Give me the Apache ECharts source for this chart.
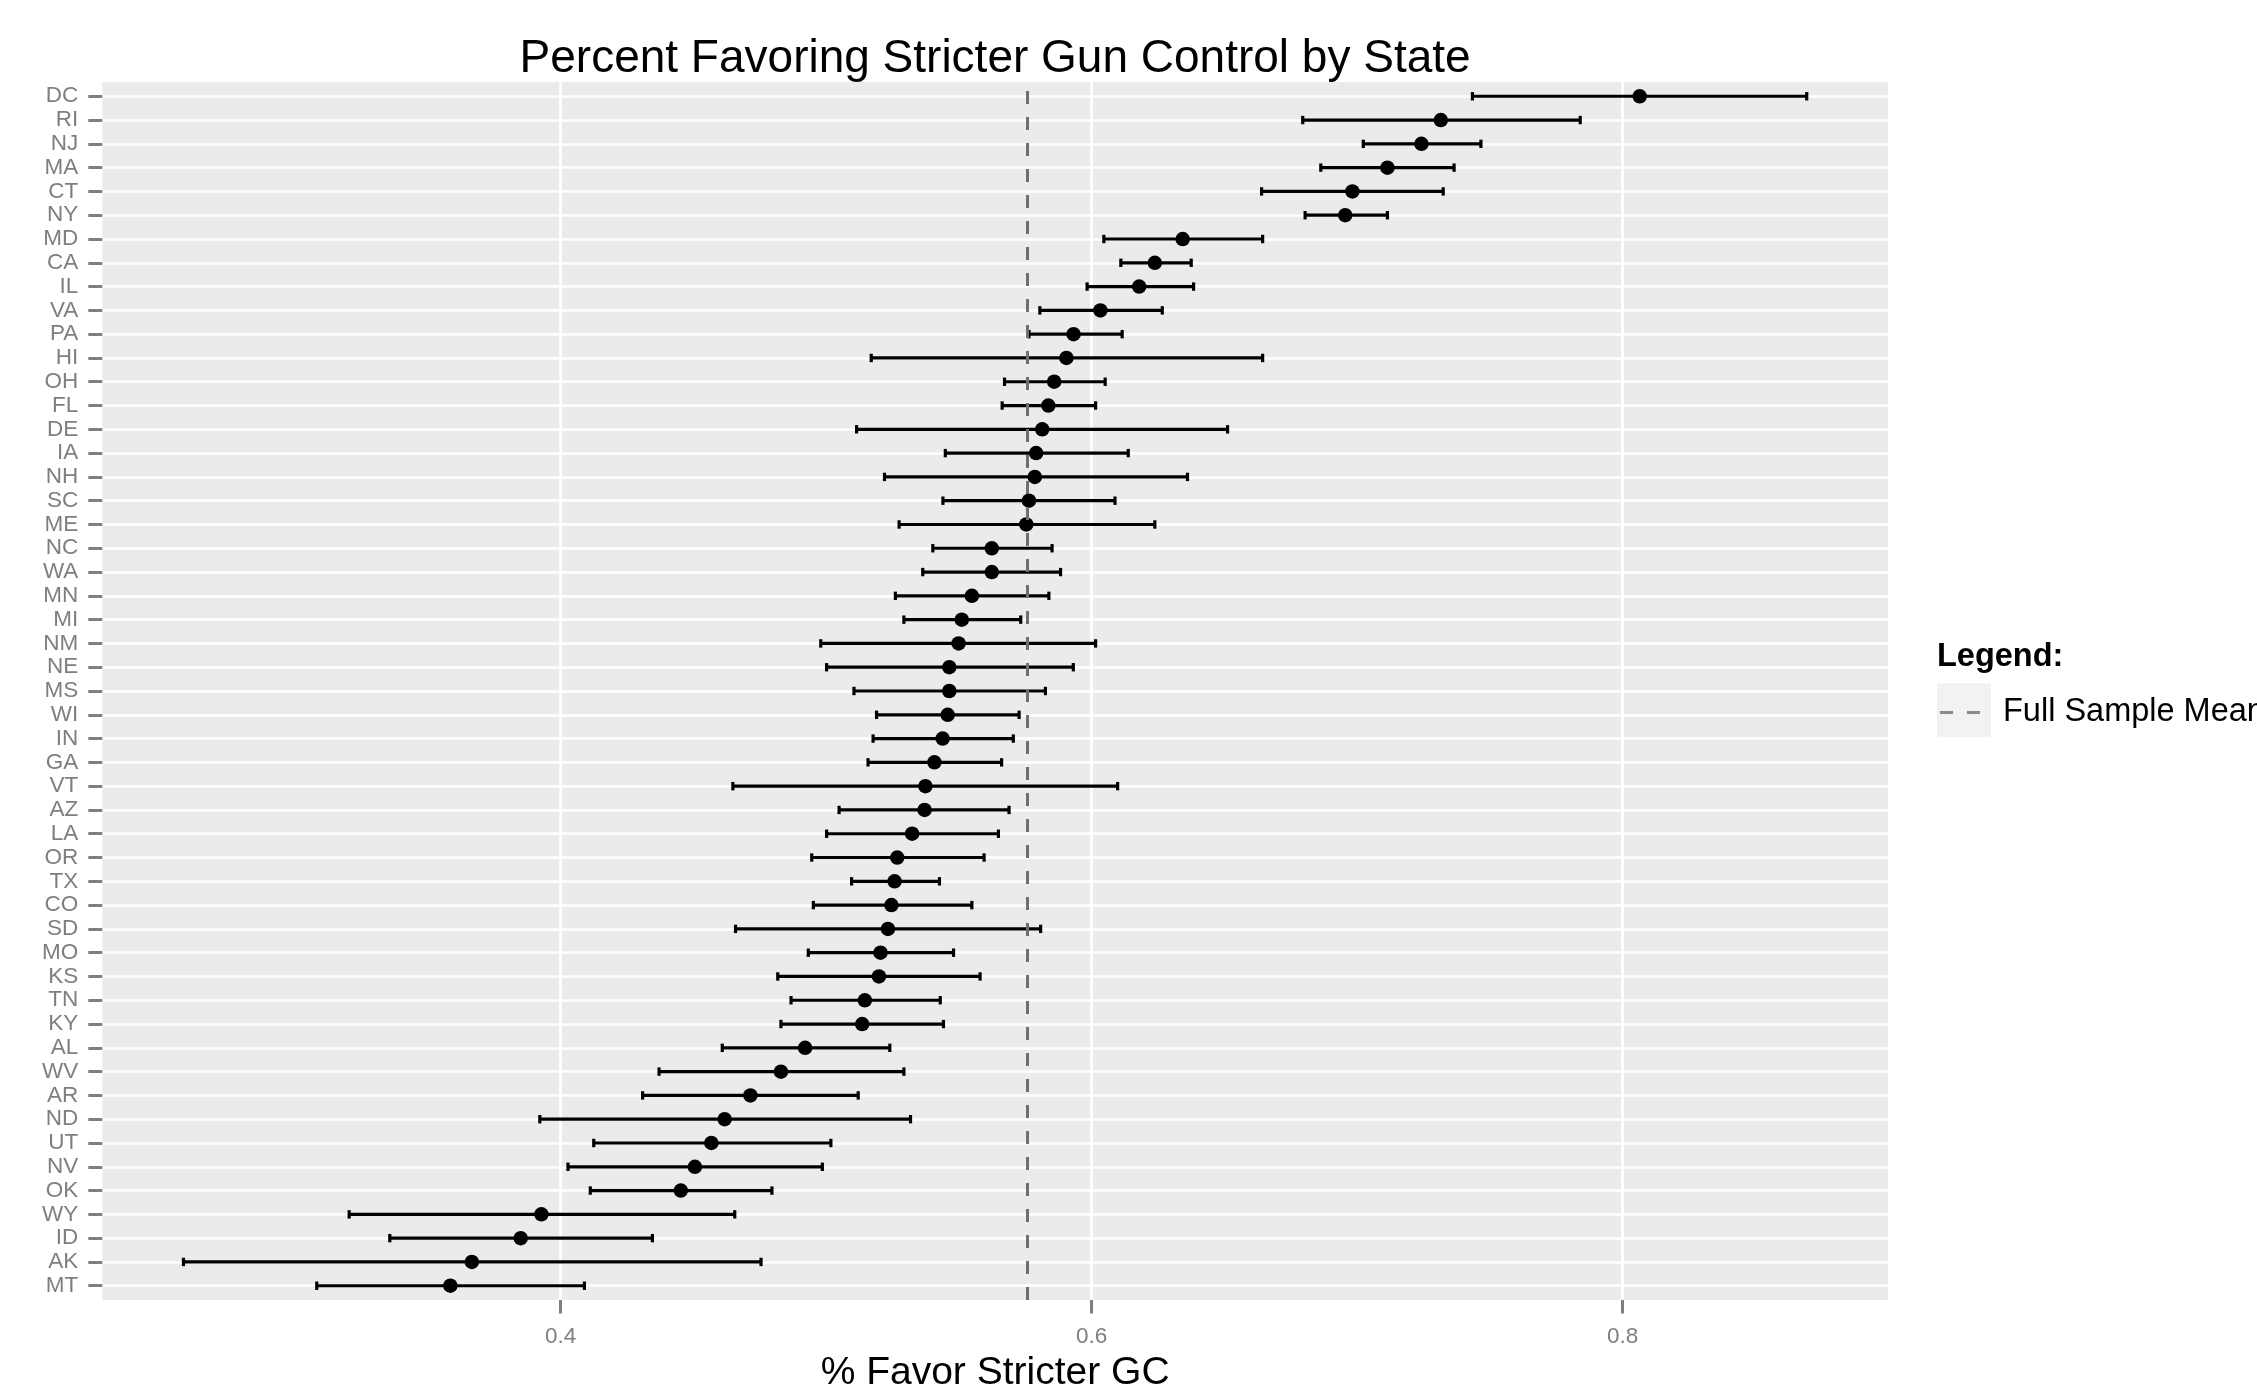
<!DOCTYPE html>
<html>
<head>
<meta charset="utf-8">
<script src="https://cdn.jsdelivr.net/npm/echarts@6/dist/echarts.min.js"></script>
<style>
html,body{margin:0;padding:0;background:#fff;}
#chart{width:2257px;height:1388px;}
</style>
</head>
<body>
<div id="chart"></div>
<script>
const TITLE = 'Percent Favoring Stricter Gun Control by State';
const X_TITLE = '% Favor Stricter GC';
const LEGEND_TITLE = 'Legend:';
const MEAN_NAME = 'Full Sample Mean';

const STATES = ['DC','RI','NJ','MA','CT','NY','MD','CA','IL','VA','PA','HI','OH','FL','DE','IA','NH','SC','ME','NC','WA','MN','MI','NM','NE','MS','WI','IN','GA','VT','AZ','LA','OR','TX','CO','SD','MO','KS','TN','KY','AL','WV','AR','ND','UT','NV','OK','WY','ID','AK','MT'];

const ESTIMATE = [0.8064,0.7315,0.7242,0.7114,0.6982,0.6955,0.6343,0.6238,0.6179,0.6033,0.5932,0.5905,0.5859,0.5837,0.5814,0.5791,0.5786,0.5764,0.5754,0.5624,0.5624,0.5549,0.5511,0.5499,0.5464,0.5464,0.5458,0.5439,0.5408,0.5374,0.5371,0.5324,0.5268,0.5258,0.5246,0.5233,0.5205,0.5199,0.5146,0.5136,0.4921,0.4830,0.4715,0.4618,0.4568,0.4506,0.4453,0.3928,0.3850,0.3666,0.3585];

const LOWER = [0.7434,0.6795,0.7023,0.6863,0.6640,0.6804,0.6046,0.6110,0.5983,0.5805,0.5764,0.5170,0.5672,0.5663,0.5115,0.5449,0.5220,0.5440,0.5275,0.5402,0.5364,0.5261,0.5293,0.4980,0.5002,0.5105,0.5190,0.5177,0.5158,0.4649,0.5049,0.5002,0.4946,0.5096,0.4952,0.4659,0.4933,0.4818,0.4868,0.4830,0.4609,0.4371,0.4309,0.3922,0.4125,0.4028,0.4112,0.3204,0.3357,0.2580,0.3082];

const UPPER = [0.8693,0.7840,0.7466,0.7365,0.7324,0.7114,0.6644,0.6375,0.6384,0.6266,0.6115,0.6644,0.6051,0.6015,0.6512,0.6138,0.6361,0.6088,0.6238,0.5851,0.5883,0.5839,0.5733,0.6015,0.5931,0.5826,0.5727,0.5705,0.5661,0.6098,0.5689,0.5649,0.5595,0.5427,0.5549,0.5808,0.5480,0.5580,0.5430,0.5442,0.5240,0.5293,0.5121,0.5318,0.5018,0.4986,0.4796,0.4656,0.4346,0.4755,0.4090];

const MEAN = 0.5756;
const MAJOR_TICKS = [0.4, 0.6, 0.8];
const MINOR_TICKS = [0.3, 0.5, 0.7];

// ggplot-style 5% expansion of the data range
const dataMin = Math.min.apply(null, LOWER);
const dataMax = Math.max.apply(null, UPPER);
const span = dataMax - dataMin;
const XMIN = dataMin - 0.05 * span;
const XMAX = dataMax + 0.05 * span;

const FONT = 'Liberation Sans, Arial, Helvetica, sans-serif';
const GREY = '#7F7F7F';

const errData = STATES.map((s, i) => [LOWER[i], UPPER[i], s]);
const ptData = STATES.map((s, i) => [ESTIMATE[i], s]);

const chart = echarts.init(document.getElementById('chart'), null, {renderer: 'canvas'});

const PANEL = {left: 102.3, top: 82, width: 1785.6, height: 1218};
const band = PANEL.height / (STATES.length - 1 + 1.2);

const option = {
  animation: false,
  backgroundColor: '#ffffff',
  textStyle: {fontFamily: FONT},
  title: [
    {text: TITLE, left: PANEL.left + PANEL.width / 2, top: 36.3, textAlign: 'center', padding: 0,
     textStyle: {fontSize: 46, fontWeight: 'normal', color: '#000', fontFamily: FONT}},
    {text: LEGEND_TITLE, left: 1937, top: 641, padding: 0,
     textStyle: {fontSize: 32.5, fontWeight: 'bold', color: '#000', fontFamily: FONT}}
  ],
  legend: {
    data: [{name: MEAN_NAME, icon: 'path://M0,0H13V3H0Z M27,0H40V3H27Z'}],
    left: 1940, top: 696, padding: 0, orient: 'vertical',
    itemWidth: 40, itemHeight: 3,
    selectedMode: false,
    itemStyle: {color: '#6F6F6F', borderWidth: 0},
    textStyle: {fontSize: 32.5, color: '#000', fontFamily: FONT, padding: [0, 0, 0, 18]}
  },
  graphic: [
    {type: 'rect', left: 1937, top: 683.3, z: 0, silent: true,
     shape: {width: 54, height: 54}, style: {fill: '#F2F2F2'}}
  ],
  grid: [
    {left: PANEL.left, top: PANEL.top, width: PANEL.width, height: PANEL.height,
     show: true, backgroundColor: '#EBEBEB', borderWidth: 0, containLabel: false,
     outerBoundsMode: 'none'},
    {left: PANEL.left, top: PANEL.top + 0.6 * band, width: PANEL.width,
     height: band * (STATES.length - 1), show: false, containLabel: false,
     outerBoundsMode: 'none'}
  ],
  xAxis: [
    {type: 'value', gridIndex: 0, min: XMIN, max: XMAX,
     axisLine: {show: false},
     axisTick: {show: true, length: 13.5, customValues: MAJOR_TICKS, lineStyle: {color: GREY, width: 3}},
     axisLabel: {show: true, customValues: MAJOR_TICKS, color: GREY, fontSize: 22.5, margin: 25, fontFamily: FONT,
                 formatter: v => v.toFixed(1)},
     splitLine: {show: true, lineStyle: {color: '#FFFFFF', width: 2.7}},
     name: X_TITLE, nameLocation: 'middle', nameGap: 53.5, nameMoveOverlap: false,
     nameTextStyle: {fontSize: 39, color: '#000', fontFamily: FONT}},
    {type: 'value', gridIndex: 0, min: XMIN, max: XMAX, z: -1,
     axisLine: {show: false},
     axisTick: {show: false, customValues: MINOR_TICKS},
     axisLabel: {show: false, customValues: MINOR_TICKS},
     splitLine: {show: true, lineStyle: {color: '#F4F4F4', width: 1.3}}},
    {type: 'value', gridIndex: 1, min: XMIN, max: XMAX, show: false,
     splitLine: {show: false}}
  ],
  yAxis: [
    {type: 'value', gridIndex: 0, min: 0, max: 1, show: false, splitLine: {show: false}},
    {type: 'category', gridIndex: 1, data: STATES, inverse: true, boundaryGap: false,
     axisLine: {show: false},
     axisTick: {show: true, interval: 0, length: 14, lineStyle: {color: GREY, width: 3}},
     axisLabel: {interval: 0, color: GREY, fontSize: 22.5, margin: 24, fontFamily: FONT},
     splitLine: {show: true, interval: 0, lineStyle: {color: '#FFFFFF', width: 2.7}}}
  ],
  series: [
    {
      type: 'custom', name: 'Interval', xAxisIndex: 2, yAxisIndex: 1, z: 3,
      data: errData,
      encode: {x: [0, 1], y: 2},
      renderItem: function (params, api) {
        const yi = api.value(2);
        const p0 = api.coord([api.value(0), yi]);
        const p1 = api.coord([api.value(1), yi]);
        const h = 4.2;
        const st = {stroke: '#000', lineWidth: 3.2, fill: null};
        return {type: 'group', children: [
          {type: 'line', shape: {x1: p0[0], y1: p0[1], x2: p1[0], y2: p1[1]}, style: st},
          {type: 'line', shape: {x1: p0[0], y1: p0[1] - h, x2: p0[0], y2: p0[1] + h}, style: st},
          {type: 'line', shape: {x1: p1[0], y1: p1[1] - h, x2: p1[0], y2: p1[1] + h}, style: st}
        ]};
      },
      silent: true
    },
    {
      type: 'scatter', name: 'Estimate', xAxisIndex: 2, yAxisIndex: 1, z: 4,
      data: ptData, symbol: 'circle', symbolSize: 14.5,
      itemStyle: {color: '#000', opacity: 1}, silent: true
    },
    {
      type: 'scatter', name: MEAN_NAME, xAxisIndex: 0, yAxisIndex: 0, z: 10,
      data: [], itemStyle: {color: '#6F6F6F'},
      markLine: {
        silent: true, symbol: 'none', z: 10, precision: 6,
        label: {show: false},
        lineStyle: {type: [13, 13], width: 3, color: '#6F6F6F'},
        emphasis: {disabled: true},
        data: [{xAxis: MEAN}]
      }
    }
  ]
};
chart.setOption(option);
</script>
</body>
</html>
